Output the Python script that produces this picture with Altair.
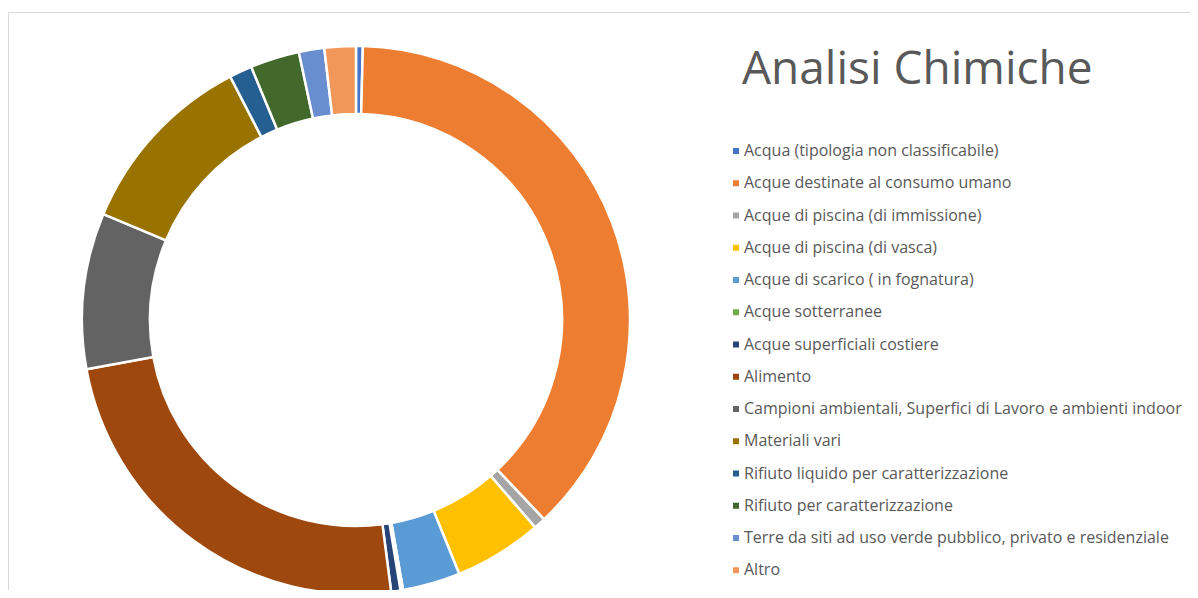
import altair as alt
import pandas as pd

categories = [
    "Acqua (tipologia non classificabile)",
    "Acque destinate al consumo umano",
    "Acque di piscina (di immissione)",
    "Acque di piscina (di vasca)",
    "Acque di scarico ( in fognatura)",
    "Acque sotterranee",
    "Acque superficiali costiere",
    "Alimento",
    "Campioni ambientali, Superfici di Lavoro e ambienti indoor",
    "Materiali vari",
    "Rifiuto liquido per caratterizzazione",
    "Rifiuto per caratterizzazione",
    "Terre da siti ad uso verde pubblico, privato e residenziale",
    "Altro",
]
values = [0.4, 37.6, 0.7, 5.2, 3.4, 0.15, 0.55, 24.2, 9.2, 11.1, 1.35, 2.9, 1.5, 1.85]
colors = [
    "#4472C4", "#ED7D31", "#A5A5A5", "#FFC000", "#5B9BD5", "#70AD47", "#264478",
    "#9E480E", "#636363", "#997300", "#255E91", "#43682B", "#698ED0", "#F1975A",
]
title_text = "Analisi Chimiche"

df = pd.DataFrame({"cat": categories, "val": values, "idx": list(range(len(categories)))})

arc = alt.Chart(df).mark_arc(
    innerRadius=206, outerRadius=274, stroke="white", strokeWidth=2.5
).encode(
    theta=alt.Theta("val:Q", stack=True),
    order=alt.Order("idx:Q"),
    color=alt.Color(
        "cat:N",
        scale=alt.Scale(domain=categories, range=colors),
        legend=alt.Legend(
            title=None,
            orient="none",
            legendX=720,
            legendY=135,
            symbolType="square",
            symbolSize=36,
            symbolStrokeWidth=0,
            labelFont="Open Sans",
            labelFontSize=16,
            labelColor="#595959",
            labelLimit=600,
            labelOffset=0,
            rowPadding=16.25,
            padding=0,
        ),
    ),
    x=alt.value(348),
    y=alt.value(312),
)

one = alt.Data(values=[{}])
vline = alt.Chart(one).mark_rule(color="#D9D9D9", strokeWidth=1).encode(
    x=alt.value(0.5), y=alt.value(4.5), y2=alt.value(600)
)
hline = alt.Chart(one).mark_rule(color="#D9D9D9", strokeWidth=1).encode(
    x=alt.value(0.5), x2=alt.value(1200), y=alt.value(4.5)
)

chart = alt.layer(vline, hline, arc).properties(
    width=1182,
    height=582,
    padding=0,
    autosize=alt.AutoSizeParams(type="none"),
    title=alt.TitleParams(
        text=title_text,
        anchor="start",
        frame="group",
        orient="top",
        offset=0,
        dx=734,
        dy=122,
        baseline="alphabetic",
        font="Open Sans",
        fontSize=46,
        fontWeight="normal",
        color="#595959",
    ),
).configure_view(stroke=None)

chart.save("out.html", embed_options={"renderer": "svg", "actions": False})
